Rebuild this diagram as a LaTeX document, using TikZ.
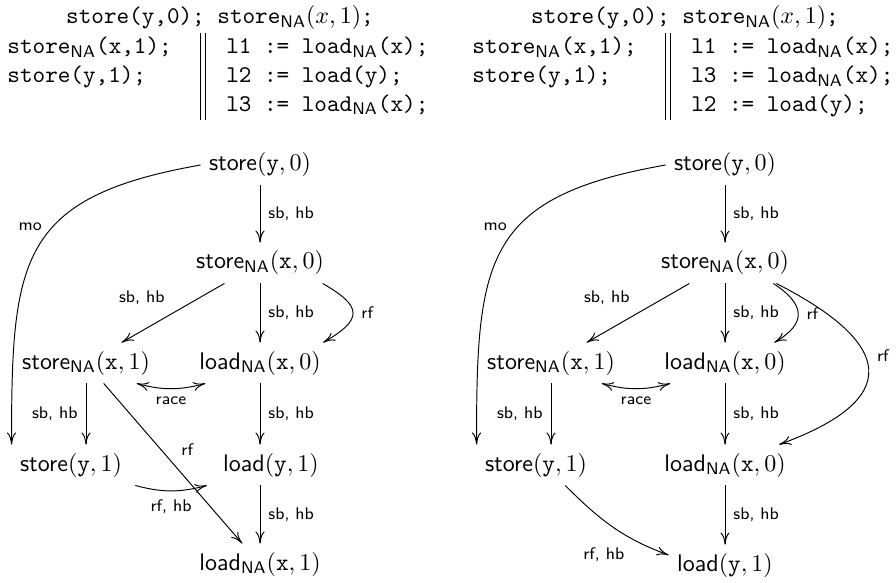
\documentclass[tikz,border=0pt]{standalone}
\usepackage{amsmath}
\usepackage{tikz}
\usetikzlibrary{arrows.meta,positioning,calc}

% events
\newcommand{\evSt}[2]{\textsf{store}$(\mathtt{#1},#2)$}
\newcommand{\evStNA}[2]{\textsf{store}$_{\mathsf{NA}}(\mathtt{#1},#2)$}
\newcommand{\evLd}[2]{\textsf{load}$(\mathtt{#1},#2)$}
\newcommand{\evLdNA}[2]{\textsf{load}$_{\mathsf{NA}}(\mathtt{#1},#2)$}

\begin{document}
\begin{tikzpicture}[auto, x=0.41667pt, y=0.41667pt, >={To[length=5pt,width=3.8pt]}]
\tikzset{
ev/.style   = {inner sep=3.33pt},
lbl/.style  = {font=\scriptsize\sffamily},
prog/.style = {font=\ttfamily, inner sep=0pt},
}
\useasboundingbox (0,0) rectangle (896,-583);

    % First program
    \node [prog]                    (one_init)    at (220,-18) {store(y,0); store$_{\mathsf{NA}}(x,1)$;};
    \node [prog, anchor=north west] (one_threads) at (7,-33)
        {\begin{tabular}{@{}l@{\hspace{12pt}}||@{\hspace{8.5pt}}l@{}}
         store$_{\mathsf{NA}}$(x,1); & l1 := load$_{\mathsf{NA}}$(x); \\
         store(y,1);                 & l2 := load(y); \\
                                     & l3 := load$_{\mathsf{NA}}$(x);
         \end{tabular}};

    % First execution nodes
    \node [ev] (one_sy0) at (260,-165) {\evSt{y}{0}};
    \node [ev] (one_sx0) at (260,-263) {\evStNA{x}{0}};
    \node [ev] (one_sx1) at (86,-363)  {\evStNA{x}{1}};
    \node [ev] (one_lx0) at (260,-363) {\evLdNA{x}{0}};
    \node [ev] (one_sy1) at (71,-465)  {\evSt{y}{1}};
    \node [ev] (one_ly1) at (271,-465) {\evLd{y}{1}};
    \node [ev] (one_lx1) at (260,-564) {\evLdNA{x}{1}};

    % First execution edges
    \draw [->] (one_sy0) -- node[lbl]{sb, hb} (one_sx0);
    \draw [->] (one_sx0) -- node[lbl, swap]{sb, hb} (one_sx1);
    \draw [->] (one_sx0) -- node[lbl]{sb, hb} (one_lx0);
    \draw [->] ([xshift=-4pt]one_sx0.south east) to[out=-30, in=30, looseness=2]
        node[lbl]{rf} ([xshift=-2.5pt]one_lx0.north east);
    \draw [<->] ([xshift=-9pt]one_sx1.south east) to[bend right=15]
        node[lbl, swap]{race} ([xshift=6pt]one_lx0.south west);
    \draw [->] (one_sx1) -- node[lbl, swap]{sb, hb} (one_sx1 |- one_sy1.north);
    \draw [->] (one_lx0) -- node[lbl]{sb, hb} (one_lx0 |- one_ly1.north);
    \draw [->] (one_sx1) -- node[lbl]{rf} (one_lx1);
    \draw [->] ([xshift=2pt]one_sy1.south east) to[bend right=15]
        node[lbl, swap]{rf, hb} ([xshift=-3.3pt]one_ly1.south west);
    \draw [->] (one_lx1 |- one_ly1.south) -- node[lbl]{sb, hb} (one_lx1);
    \draw [->] (one_sy0.west) to[out=190, in=90, looseness=1.4]
        node[lbl, swap, pos=0.45, inner sep=1.5pt]{mo} (one_sy1.north west);

    % Second program
    \node [prog]                    (two_init)    at (685,-18) {store(y,0); store$_{\mathsf{NA}}(x,1)$;};
    \node [prog, anchor=north west] (two_threads) at (472,-33)
        {\begin{tabular}{@{}l@{\hspace{12pt}}||@{\hspace{8.5pt}}l@{}}
         store$_{\mathsf{NA}}$(x,1); & l1 := load$_{\mathsf{NA}}$(x); \\
         store(y,1);                 & l3 := load$_{\mathsf{NA}}$(x); \\
                                     & l2 := load(y);
         \end{tabular}};

    % Second execution nodes
    \node [ev] (two_sy0)  at (725,-165) {\evSt{y}{0}};
    \node [ev] (two_sx0)  at (725,-263) {\evStNA{x}{0}};
    \node [ev] (two_sx1)  at (551,-363) {\evStNA{x}{1}};
    \node [ev] (two_lx0)  at (725,-363) {\evLdNA{x}{0}};
    \node [ev] (two_sy1)  at (536,-465) {\evSt{y}{1}};
    \node [ev] (two_lx0b) at (725,-465) {\evLdNA{x}{0}};
    \node [ev] (two_ly1)  at (725,-565) {\evLd{y}{1}};

    % Second execution edges
    \draw [->] (two_sy0) -- node[lbl]{sb, hb} (two_sx0);
    \draw [->] (two_sx0) -- node[lbl, swap]{sb, hb} (two_sx1);
    \draw [->] (two_sx0) -- node[lbl]{sb, hb} (two_lx0);
    \draw [->] ([xshift=-10pt]two_sx0.south east) to[out=-33, in=30, looseness=1.65]
        node[lbl]{rf} ([xshift=-8.3pt]two_lx0.north east);
    \draw [->] ([xshift=-8.75pt]two_sx0.south east) to[out=-27, in=20, looseness=2.1]
        node[lbl]{rf} ([xshift=-6.25pt]two_lx0b.north east);
    \draw [<->] ([xshift=-9pt]two_sx1.south east) to[bend right=15]
        node[lbl, swap]{race} ([xshift=6pt]two_lx0.south west);
    \draw [->] (two_sx1) -- node[lbl, swap]{sb, hb} (two_sx1 |- two_sy1.north);
    \draw [->] (two_lx0) -- node[lbl]{sb, hb} (two_lx0b);
    \draw [->] (two_sy1.-35) to[out=-45, in=160]
        node[lbl, swap, pos=0.7]{rf, hb} (two_ly1.170);
    \draw [->] (two_lx0b) -- node[lbl]{sb, hb} (two_ly1);
    \draw [->] (two_sy0.west) to[out=190, in=90, looseness=1.4]
        node[lbl, swap, pos=0.45, inner sep=1.5pt]{mo} (two_sy1.north west);

\end{tikzpicture}
\end{document}
